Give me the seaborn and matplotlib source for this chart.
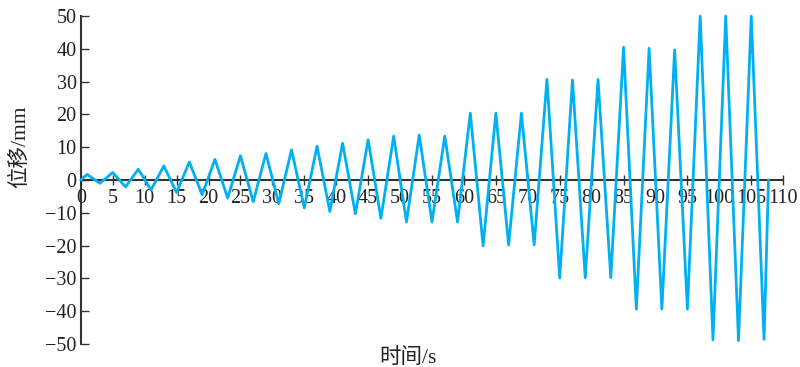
# -*- coding: utf-8 -*-
import pandas as pd
import matplotlib
matplotlib.use('Agg')
import matplotlib.pyplot as plt
import seaborn as sns

# 时间/s 与 位移/mm (峰谷点读图)
time_s = [0, 1, 3, 5, 7, 9, 11, 13, 15, 17, 19, 21, 23, 25, 27, 29, 31, 33, 35, 37,
          39, 41, 43, 45, 47, 49, 51, 53, 55, 57, 59, 61, 63, 65, 67, 69, 71, 73, 75,
          77, 79, 81, 83, 85, 87, 89, 91, 93, 95, 97, 99, 101, 103, 105, 107, 107.7]
disp_mm = [0, 1.7, -1.0, 2.3, -2.1, 3.3, -3.0, 4.3, -3.8, 5.5, -4.5, 6.3, -5.5, 7.4,
           -6.6, 8.1, -7.2, 9.2, -8.5, 10.3, -9.6, 11.2, -10.3, 12.3, -11.7, 13.4,
           -12.8, 13.7, -12.8, 13.4, -12.8, 20.4, -20.1, 20.4, -19.8, 20.4, -19.8,
           30.7, -29.9, 30.5, -29.8, 30.7, -29.8, 40.5, -39.4, 40.2, -39.4, 39.7,
           -39.4, 50, -48.8, 50, -49, 50, -48.6, 0]
x_ticks = list(range(0, 111, 5))
y_ticks = list(range(-50, 51, 10))

df = pd.DataFrame({'t': time_s, 'd': disp_mm})

sns.set_style('ticks')
plt.rcParams['font.family'] = ['Liberation Serif', 'Noto Sans CJK SC']
plt.rcParams['axes.unicode_minus'] = True

fig = plt.figure(figsize=(8, 3.67), dpi=100)
ax = fig.add_axes([0.101, 0.063, 0.878, 0.893])
sns.lineplot(data=df, x='t', y='d', sort=False, color='#00B0F0', linewidth=2.0,
             ax=ax, zorder=3, clip_on=False)

ax.set_xlim(0, 110)
ax.set_ylim(-50, 50)
ax.set_xticks(x_ticks)
ax.set_yticks(y_ticks)
ax.spines['bottom'].set_position('zero')
ax.spines['top'].set_visible(False)
ax.spines['right'].set_visible(False)
for s in ['bottom', 'left']:
    ax.spines[s].set_color('#333333')
    ax.spines[s].set_linewidth(1.5)
ax.tick_params(axis='x', direction='inout', length=7, width=1, colors='#333333',
               labelsize=14.5, pad=3, labelcolor='#222222')
ax.tick_params(axis='y', direction='in', length=6, width=1, colors='#333333',
               labelsize=14.5, pad=3, labelcolor='#222222')

ax.set_xlabel('时间/s', fontsize=15.5, color='#222222')
ax.set_ylabel('位移/mm', fontsize=15.5, color='#222222')
ax.xaxis.set_label_coords(0.466, -0.012)
ax.yaxis.set_label_coords(-0.072, 0.6)

fig.savefig('out.png', dpi=100)
